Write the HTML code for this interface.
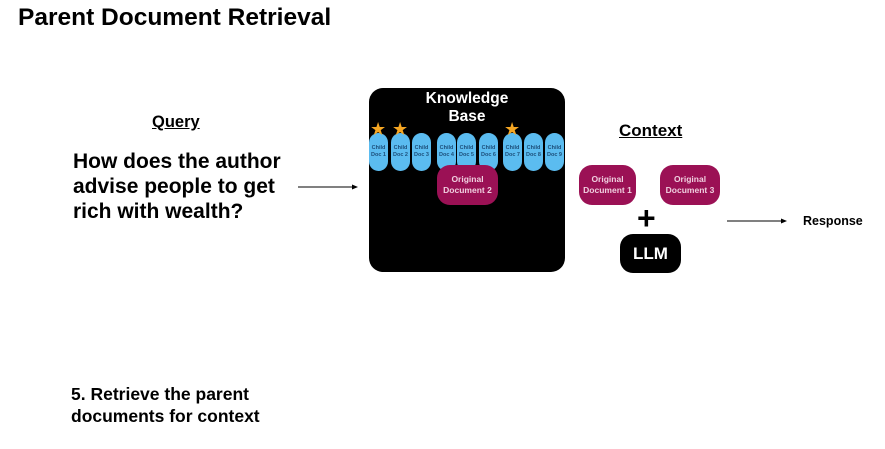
<!DOCTYPE html>
<html><head><style>
body{margin:0;width:885px;height:449px;background:#fff;position:relative;overflow:hidden;font-family:"Liberation Sans",sans-serif;}
.a{position:absolute;}
.pill{position:absolute;top:133px;width:19px;height:38px;background:#5bbcf0;border-radius:10px;color:#1d4f7a;font-size:5.5px;font-weight:bold;text-align:center;display:flex;align-items:center;justify-content:center;line-height:7px;}
.doc{position:absolute;background:#9b1155;border-radius:13px;color:#f0d0e0;font-size:8.5px;font-weight:bold;text-align:center;display:flex;align-items:center;justify-content:center;line-height:11px;}
.star{position:absolute;top:120px;color:#f5a623;font-size:18px;line-height:18px;}
</style></head><body>
<div class="a" style="left:18px;top:4px;font-size:24.5px;font-weight:bold;">Parent Document Retrieval</div>
<div class="a" style="left:152px;top:113px;font-size:16.5px;font-weight:bold;text-decoration:underline;">Query</div>
<div class="a" style="left:73px;top:149px;font-size:21px;font-weight:bold;line-height:25px;">How does the author<br>advise people to get<br>rich with wealth?</div>
<svg class="a" style="left:0;top:0" width="885" height="449">
<line x1="298" y1="187" x2="354" y2="187" stroke="#000" stroke-width="1"/><polygon points="358,187 352,184.5 352,189.5" fill="#000"/>
<line x1="727" y1="221" x2="783" y2="221" stroke="#000" stroke-width="1"/><polygon points="787,221 781,218.5 781,223.5" fill="#000"/>
</svg>
<div class="a" style="left:369px;top:88px;width:196px;height:184px;background:#000;border-radius:14px;"></div>
<div class="a" style="left:369px;top:90px;width:196px;text-align:center;color:#fff;font-size:15.5px;font-weight:bold;line-height:18px;">Knowledge<br>Base</div>
<div class="pill" style="left:369px">Child<br>Doc 1</div>
<div class="pill" style="left:391px">Child<br>Doc 2</div>
<div class="pill" style="left:412px">Child<br>Doc 3</div>
<div class="pill" style="left:437px">Child<br>Doc 4</div>
<div class="pill" style="left:457px">Child<br>Doc 5</div>
<div class="pill" style="left:479px">Child<br>Doc 6</div>
<div class="pill" style="left:503px">Child<br>Doc 7</div>
<div class="pill" style="left:524px">Child<br>Doc 8</div>
<div class="pill" style="left:545px">Child<br>Doc 9</div>
<div class="star" style="left:370px">★</div>
<div class="star" style="left:392px">★</div>
<div class="star" style="left:504px">★</div>
<div class="doc" style="left:437px;top:165px;width:61px;height:40px;">Original<br>Document 2</div>
<div class="a" style="left:619px;top:121px;font-size:17px;font-weight:bold;text-decoration:underline;">Context</div>
<div class="doc" style="left:579px;top:165px;width:57px;height:40px;">Original<br>Document 1</div>
<div class="doc" style="left:660px;top:165px;width:60px;height:40px;">Original<br>Document 3</div>
<div class="a" style="left:637px;top:202px;font-size:32px;font-weight:bold;line-height:32px;">+</div>
<div class="a" style="left:620px;top:234px;width:61px;height:39px;background:#000;border-radius:13px;color:#fff;font-size:17px;font-weight:bold;display:flex;align-items:center;justify-content:center;">LLM</div>
<div class="a" style="left:803px;top:214px;font-size:12.5px;font-weight:bold;">Response</div>
<div class="a" style="left:71px;top:383px;font-size:17.5px;font-weight:bold;line-height:22px;">5. Retrieve the parent<br>documents for context</div>
</body></html>
